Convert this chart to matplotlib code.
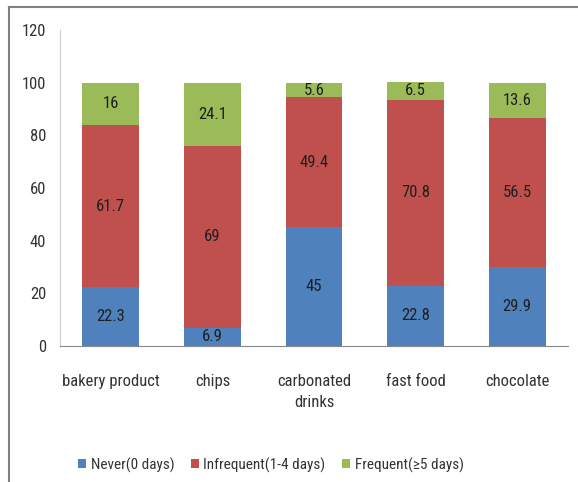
import numpy as np
import matplotlib.pyplot as plt
from matplotlib import font_manager

# data
categories = ['bakery product', 'chips', 'carbonated\ndrinks', 'fast food', 'chocolate']
never = [22.3, 6.9, 45, 22.8, 29.9]
infrequent = [61.7, 69, 49.4, 70.8, 56.5]
frequent = [16, 24.1, 5.6, 6.5, 13.6]
series_names = ['Never(0 days)', 'Infrequent(1-4 days)', 'Frequent(\u22655 days)']
colors = ['#4F81BD', '#C0504D', '#9BBB59']
yticks = [0, 20, 40, 60, 80, 100, 120]

# pick a narrow font if one is around (the chart uses a narrow Calibri-like face)
fonts = font_manager.fontManager.ttflist
narrow = [f for f in fonts if ('Narrow' in f.fname or 'Condensed' in f.fname)
          and 'Bold' not in f.fname and 'Italic' not in f.fname and 'Oblique' not in f.fname]
narrow.sort(key=lambda f: (0 if 'Liberation' in f.fname else 1 if 'Roboto' in f.fname
                           else 2 if 'Open' in f.fname else 3))
if narrow:
    font_manager.fontManager.addfont(narrow[0].fname)
    font = font_manager.FontProperties(fname=narrow[0].fname).get_name()
    size = 11.5
else:
    font = 'Liberation Sans'
    size = 11
plt.rcParams['font.family'] = [font, 'DejaVu Sans']
if narrow and 'DejaVu' in narrow[0].fname:
    plt.rcParams['font.stretch'] = 'condensed'

fig = plt.figure(figsize=(5.78, 4.82), dpi=100)
ax = fig.add_axes([0.1038, 0.2822, 0.8789, 0.6556])

x = np.arange(len(categories))
width = 0.56
bottom = np.zeros(len(categories))
for vals, name, col in zip([never, infrequent, frequent], series_names, colors):
    vals = np.array(vals, dtype=float)
    ax.bar(x, vals, width, bottom=bottom, color=col, label=name)
    for xi, b, v in zip(x, bottom, vals):
        ax.text(xi, b + v / 2, f'{v:g}', ha='center', va='center',
                fontsize=size + 0.5, color='#1f1f1f')
    bottom += vals

ax.set_xlim(-0.5, len(categories) - 0.5)
ax.set_ylim(0, 120)
ax.set_yticks(yticks)
ax.set_xticks(x)
ax.set_xticklabels(categories, fontsize=size + 0.5, color='#333333', linespacing=1.55)
ax.tick_params(axis='y', labelsize=size + 0.5, labelcolor='#333333', length=0, pad=10)
ax.tick_params(axis='x', length=0, pad=20)
for s in ['top', 'right']:
    ax.spines[s].set_visible(False)
ax.spines['left'].set_color('#d0d0d0')
ax.spines['bottom'].set_color('#888888')

fig.legend(loc='center', bbox_to_anchor=(271 / 578, 1 - 465 / 482), ncol=3,
           frameon=False, fontsize=size - 0.5, handlelength=0.5, handleheight=0.5,
           handletextpad=0.3, columnspacing=1.1, labelcolor='#333333')

# outer frame (top and left edges visible)
fig.add_artist(plt.Line2D([9 / 578, 9 / 578], [0, 1 - 7 / 482],
                          transform=fig.transFigure, color='#808080', lw=1.5))
fig.add_artist(plt.Line2D([9 / 578, 1], [1 - 7 / 482, 1 - 7 / 482],
                          transform=fig.transFigure, color='#808080', lw=1.5))

fig.savefig('out.png', dpi=100)
